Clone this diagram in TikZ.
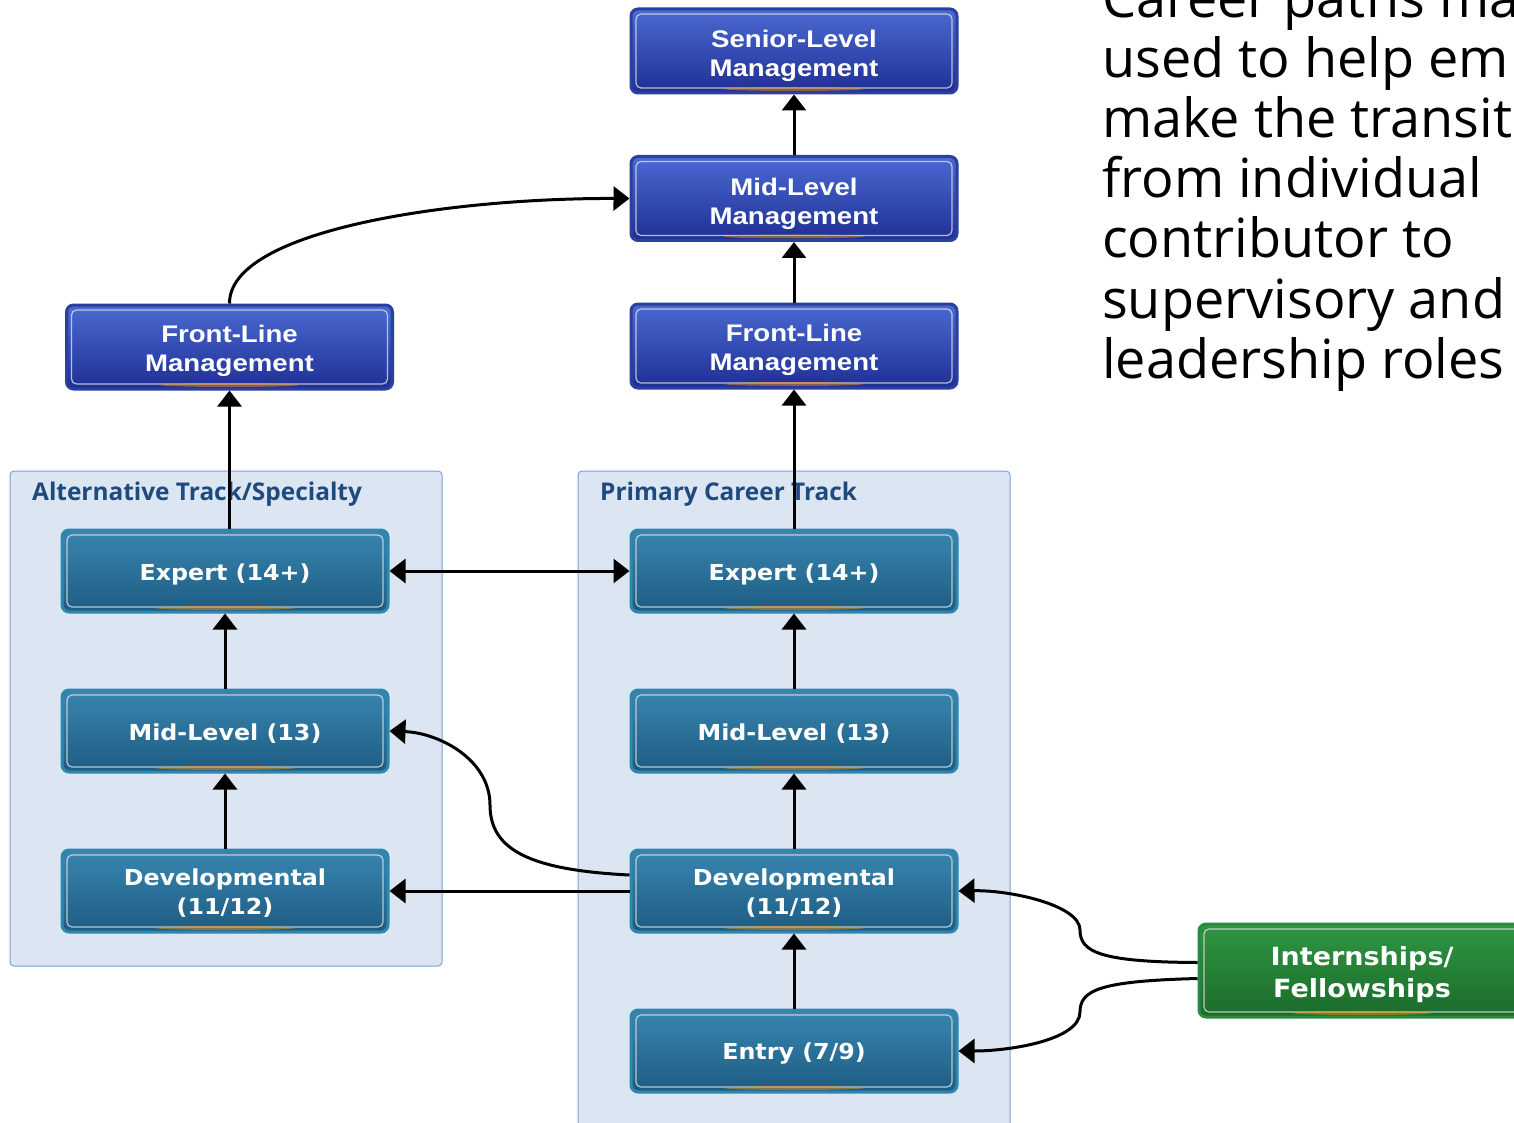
\documentclass[tikz,border=0pt]{standalone}
\usepackage{fontspec}
\usetikzlibrary{arrows.meta}
\newfontfamily\mgmtfont{Liberation Sans}[FakeStretch=1.15]
\newfontfamily\tealfont{DejaVu Sans}[FakeStretch=1.08]
\newfontfamily\titlefont{Open Sans}
\newfontfamily\bodyfont{Open Sans}
\definecolor{mgmtedge}{HTML}{2B3F9E}
\definecolor{mgmttop}{HTML}{4A6AD2}
\definecolor{mgmtbot}{HTML}{1F2F94}
\definecolor{tealedge}{HTML}{2E88AE}
\definecolor{tealtop}{HTML}{3886B0}
\definecolor{tealbot}{HTML}{1E5C82}
\definecolor{greenedge}{HTML}{2A8A3F}
\definecolor{greentop}{HTML}{2F9642}
\definecolor{greenbot}{HTML}{1B6B2B}
\definecolor{contfill}{HTML}{DCE6F2}
\definecolor{contedge}{HTML}{7F9FD8}
\definecolor{titleblue}{HTML}{1F4A7E}
\tikzset{
  innerrim/.style={path picture={
      \draw[white!75!gray, line width=1.2pt, rounded corners=5pt, opacity=.8]
        ([shift={(5pt,-5pt)}]path picture bounding box.north west) rectangle
        ([shift={(-5pt,5pt)}]path picture bounding box.south east);
      \fill[orange!80!yellow, opacity=.45]
        ([yshift=4pt]path picture bounding box.south) ellipse [x radius=70pt, y radius=2pt];
  }},
  boxbase/.style={minimum width=326pt, minimum height=84pt, inner sep=0pt,
      rounded corners=7pt, line width=3pt, innerrim},
  mgmt/.style={boxbase, draw=mgmtedge, top color=mgmttop, bottom color=mgmtbot},
  teal/.style={boxbase, minimum height=82pt, draw=tealedge, top color=tealtop, bottom color=tealbot},
  greenbox/.style={boxbase, minimum height=93pt, draw=greenedge, top color=greentop, bottom color=greenbot},
  mgmttext/.style={inner sep=0pt, align=center, text=white,
      font=\mgmtfont\bfseries\fontsize{24}{29}\selectfont},
  tealtext/.style={inner sep=0pt, align=center, text=white,
      font=\tealfont\bfseries\fontsize{22}{29}\selectfont},
  greentext/.style={inner sep=0pt, align=center, text=white,
      font=\tealfont\bfseries\fontsize{25}{32}\selectfont},
  container/.style={draw=contedge, fill=contfill, line width=1pt, rounded corners=4pt},
  tracktitle/.style={anchor=base west, inner sep=0pt, text=titleblue,
      font=\titlefont\bfseries\fontsize{24.4}{28}\selectfont},
  bodytext/.style={anchor=base west, inner sep=0pt, font=\bodyfont\fontsize{54}{60}\selectfont},
  arr/.style={line width=3pt, -{Triangle[length=16pt,width=24pt]}},
  arrboth/.style={line width=3pt, {Triangle[length=16pt,width=24pt]}-{Triangle[length=16pt,width=24pt]}},
}
\begin{document}
\begin{tikzpicture}[x=1pt,y=-1pt]
\useasboundingbox (0,0) rectangle (1514,1123);
\clip (0,0) rectangle (1514,1123);
\fill[white] (0,0) rectangle (1514,1123);

% containers
\draw[container] (10,471) rectangle (442,966);
\draw[container] (578,471) rectangle (1010,1140);

% management boxes
\node[mgmt] (senior) at (794,51) {};
\node[mgmt] (midm) at (794,198.5) {};
\node[mgmt] (rfl) at (794,346) {};
\node[mgmt] (lfl) at (229.5,347) {};
\node[mgmttext] (seniort) at ([yshift=-5pt]senior.center) {Senior-Level\\Management};
\node[mgmttext] (midmt) at ([yshift=-5pt]midm.center) {Mid-Level\\Management};
\node[mgmttext] (rflt) at ([yshift=-4pt]rfl.center) {Front-Line\\Management};
\node[mgmttext] (lflt) at ([yshift=-4pt]lfl.center) {Front-Line\\Management};

% track titles
\node[tracktitle] (ltitle) at (32,500) {Alternative Track/Specialty};
\node[tracktitle] (rtitle) at (600,500) {Primary Career Track};

% left column
\node[teal] (lexp) at (225,571) {};
\node[teal] (lmid) at (225,731) {};
\node[teal] (ldev) at (225,891) {};
\node[tealtext] (lexpt) at ([yshift=-3pt]lexp.center) {Expert (14+)};
\node[tealtext] (lmidt) at ([yshift=-3pt]lmid.center) {Mid-Level (13)};
\node[tealtext] (ldevt) at ([yshift=-2pt]ldev.center) {Developmental\\(11/12)};

% right column
\node[teal] (rexp) at (794,571) {};
\node[teal] (rmid) at (794,731) {};
\node[teal] (rdev) at (794,891) {};
\node[teal] (entry) at (794,1051) {};
\node[tealtext] (rexpt) at ([yshift=-3pt]rexp.center) {Expert (14+)};
\node[tealtext] (rmidt) at ([yshift=-3pt]rmid.center) {Mid-Level (13)};
\node[tealtext] (rdevt) at ([yshift=-2pt]rdev.center) {Developmental\\(11/12)};
\node[tealtext] (entryt) at ([yshift=-3pt]entry.center) {Entry (7/9)};

% internships
\node[greenbox] (intern) at (1362,970.5) {};
\node[greentext] (internt) at ([yshift=-4pt]intern.center) {Internships/\\Fellowships};

% body text
\node[bodytext] (t1) at (1102,18) {Career paths ma};
\node[bodytext] (t2) at (1102,78) {used to help em};
\node[bodytext] (t3) at (1102,138) {make the transit};
\node[bodytext] (t4) at (1102,198) {from individual};
\node[bodytext] (t5) at (1102,258) {contributor to};
\node[bodytext] (t6) at (1102,318) {supervisory and};
\node[bodytext] (t7) at (1102,378) {leadership roles};

% connectors
\draw[arr] (midm) -- (senior);
\draw[arr] (rfl) -- (midm);
\draw[arr] (rexp) -- (rfl);
\draw[arr] (lexp.north -| lfl.south) -- (lfl.south);
\draw[arr] (lfl.north) .. controls (229,230) and (450,198) .. (midm.west);
\draw[arrboth] (lexp) -- (rexp);
\draw[arr] (lmid) -- (lexp);
\draw[arr] (ldev) -- (lmid);
\draw[arr] (rmid) -- (rexp);
\draw[arr] (rdev) -- (rmid);
\draw[arr] (entry) -- (rdev);
\draw[arr] (rdev) -- (ldev);
\coordinate (sbend) at (490,805);
\draw[arr] ([yshift=16pt]rdev.west) .. controls (530,870) and (490,850) .. (sbend)
   .. controls (490,760) and (440,733) .. (lmid.east);
\coordinate (ubend) at (1080,930);
\coordinate (lbend) at (1080,1012);
\draw[arr] ([yshift=8pt]intern.west) .. controls (1100,962) and (1080,952) .. (ubend)
   .. controls (1080,905) and (1010,890) .. (rdev.east);
\draw[arr] ([yshift=-8pt]intern.west) .. controls (1100,981) and (1080,990) .. (lbend)
   .. controls (1080,1040) and (1010,1051) .. (entry.east);
\end{tikzpicture}
\end{document}
